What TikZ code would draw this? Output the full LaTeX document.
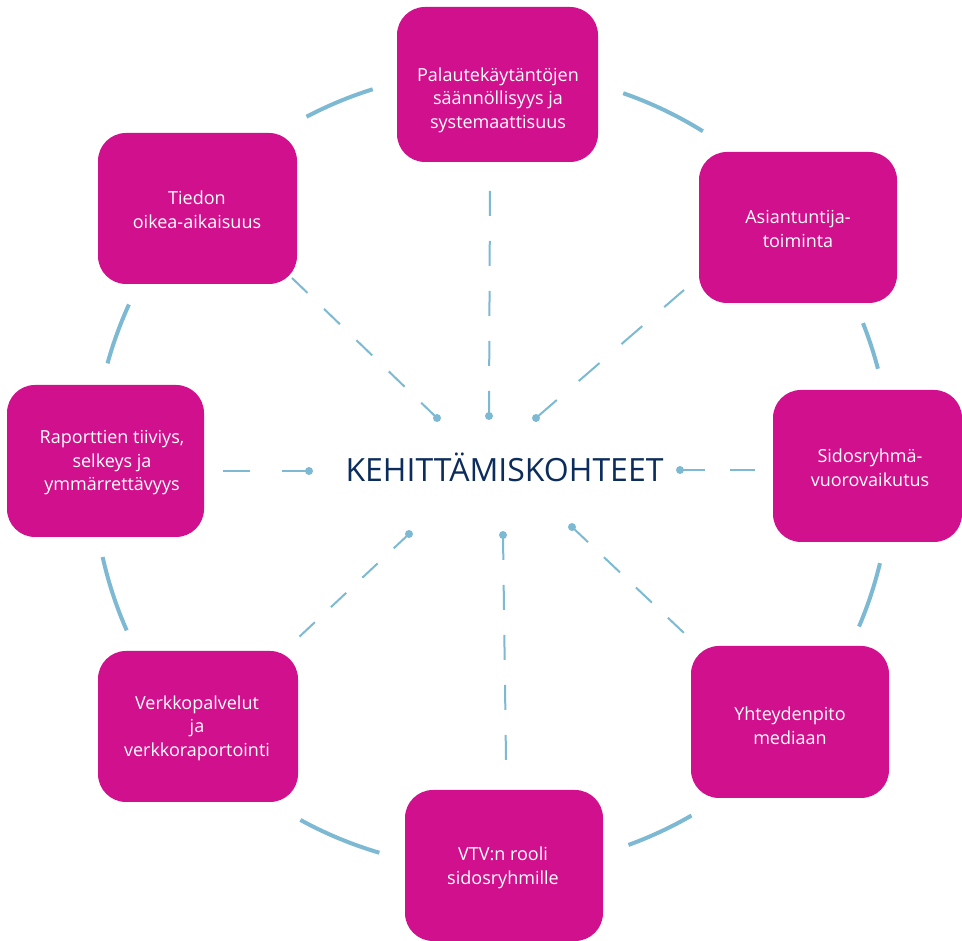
\documentclass[tikz,border=0pt]{standalone}
\usepackage{fontspec}
\setmainfont{Open Sans}
\definecolor{mag}{RGB}{208,16,140}
\definecolor{lblue}{RGB}{125,185,210}
\definecolor{navy}{RGB}{12,45,92}
\begin{document}
\begin{tikzpicture}[x=1pt,y=1pt,
  box/.style={draw=none,fill=mag,rounded corners=28pt,inner sep=0pt},
  boxtext/.style={text=white,align=center,font=\fontsize{18}{23.5}\selectfont,inner sep=0pt},
  ring/.style={draw=lblue,line width=4pt},
  spoke/.style={draw=lblue,line width=2pt},
  dotc/.style={fill=lblue}]
\useasboundingbox (0,0) rectangle (962,941);
% ring arcs
\coordinate (c) at (492,471);
\foreach \a/\b in {107.4/117.7, 58.1/70.8, 14.7/21.6, -23.1/-13.5, -70/-60, -118.7/-106.4, 192.6/203.7, 155.5/164.5}{
  \draw[ring] (c) ++(\a:399) arc[start angle=\a, end angle=\b, radius=399];
}
% boxes
\node[box,minimum width=201pt,minimum height=155pt] (b1) at (497.5,856.5) {};
\node[box,minimum width=198pt,minimum height=151pt] (b2) at (798,713.5) {};
\node[box,minimum width=189pt,minimum height=152pt] (b3) at (867.5,475) {};
\node[box,minimum width=198pt,minimum height=152pt] (b4) at (790,219) {};
\node[box,minimum width=198pt,minimum height=151pt] (b5) at (504,75.5) {};
\node[box,minimum width=200pt,minimum height=151pt] (b6) at (198,214.5) {};
\node[box,minimum width=197pt,minimum height=152pt] (b7) at (105.5,480) {};
\node[box,minimum width=199pt,minimum height=151pt] (b8) at (197.5,732.5) {};
% box texts
\node[boxtext] (t1) at (498,841) {Palautekäytäntöjen\\säännöllisyys ja\\systemaattisuus};
\node[boxtext] (t2) at (798,712) {Asiantuntija-\\toiminta};
\node[boxtext] (t3) at (870,473) {Sidosryhmä-\\vuorovaikutus};
\node[boxtext] (t4) at (790,215) {Yhteydenpito\\mediaan};
\node[boxtext] (t5) at (503,73) {VTV:n rooli\\sidosryhmille};
\node[boxtext] (t6) at (197,213) {Verkkopalvelut\\ja\\verkkoraportointi};
\node[boxtext] (t7) at (112,478) {Raporttien tiiviys,\\selkeys ja\\ymmärrettävyys};
\node[boxtext] (t8) at (197,731) {Tiedon\\oikea-aikaisuus};
% title
\node[anchor=base,text=navy,font=\fontsize{32}{36}\selectfont,inner sep=0pt] (title) at (504.5,459) {KEHITTÄMISKOHTEET};
% spokes
\coordinate (d1) at (437,523); \coordinate (e1) at (292,663);
\coordinate (d2) at (489,525); \coordinate (e2) at (490,755);
\coordinate (d3) at (536,523); \coordinate (e3) at (684,651);
\coordinate (d4) at (309,470); \coordinate (e4) at (222,470);
\coordinate (d5) at (680,471); \coordinate (e5) at (755,471);
\coordinate (d6) at (409,407); \coordinate (e6) at (298,303);
\coordinate (d7) at (503,406); \coordinate (e7) at (506,181);
\coordinate (d8) at (572,414); \coordinate (e8) at (684,308);
\draw[spoke,dash pattern=on 22pt off 23pt] (d1) -- (e1);
\draw[spoke,dash pattern=on 25pt off 25pt] (d2) -- (e2);
\draw[spoke,dash pattern=on 27.5pt off 29pt] (d3) -- (e3);
\draw[spoke,dash pattern=on 27pt off 32pt] (d4) -- (e4);
\draw[spoke,dash pattern=on 25pt off 25pt] (d5) -- (e5);
\draw[spoke,dash pattern=on 21pt off 22pt] (d6) -- (e6);
\draw[spoke,dash pattern=on 25pt off 25pt] (d7) -- (e7);
\draw[spoke,dash pattern=on 22pt off 22pt] (d8) -- (e8);
\foreach \i in {1,...,8}{\fill[dotc] (d\i) circle (4pt);}
\end{tikzpicture}
\end{document}
